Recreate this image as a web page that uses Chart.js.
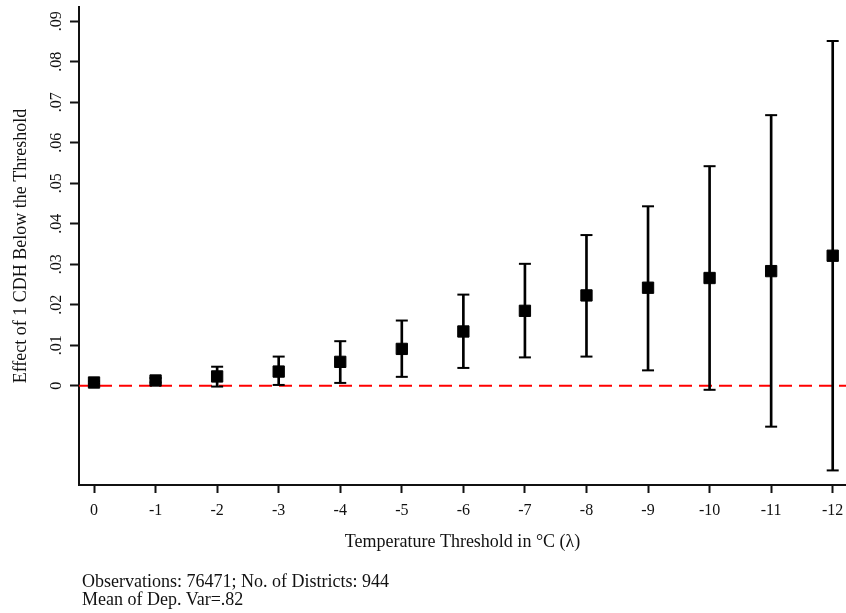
<!DOCTYPE html>
<html>
<head>
<meta charset="utf-8">
<script src="https://cdn.jsdelivr.net/npm/chart.js@4/dist/chart.umd.min.js"></script>
<style>
  html, body { margin: 0; padding: 0; background: #fff; }
  #wrap { position: relative; width: 846px; height: 613px; }
  #c { position: absolute; left: 0; top: 0; }
  #notes { position: absolute; left: 82px; top: 572px; font-family: 'Liberation Serif', 'Times New Roman', serif; font-size: 18px; line-height: 18px; color: #111; white-space: nowrap; }
</style>
</head>
<body>
<div id="wrap">
  <canvas id="c" width="846" height="613"></canvas>
  <div id="notes">Observations: 76471; No. of Districts: 944<br>Mean of Dep. Var=.82</div>
</div>
<script>
// Categories: temperature thresholds (x axis tick labels)
const thresholds = ['0', '-1', '-2', '-3', '-4', '-5', '-6', '-7', '-8', '-9', '-10', '-11', '-12'];
// Point estimates
const estimates = [0.0008, 0.0013, 0.0023, 0.0035, 0.0059, 0.0091, 0.0134, 0.0185, 0.0223, 0.0242, 0.0266, 0.0283, 0.0321];
// Confidence interval bounds
const ciLower = [0.0005, 0.0008, -0.0002, 0.0002, 0.0007, 0.0022, 0.0044, 0.0070, 0.0072, 0.0038, -0.0010, -0.0101, -0.0209];
const ciUpper = [0.0011, 0.0019, 0.0047, 0.0072, 0.0110, 0.0161, 0.0225, 0.0301, 0.0372, 0.0443, 0.0542, 0.0668, 0.0851];
// Y axis ticks
const yTickValues = [0, 0.01, 0.02, 0.03, 0.04, 0.05, 0.06, 0.07, 0.08, 0.09];
const yTickLabels = ['0', '.01', '.02', '.03', '.04', '.05', '.06', '.07', '.08', '.09'];
// Axis ranges
const xMin = -0.244, xMax = 12.216;
const yMin = -0.0245, yMax = 0.0935;

const FONT = "'Liberation Serif', 'Times New Roman', serif";

const idx = thresholds.map((_, i) => i);

new Chart(document.getElementById('c'), {
  data: {
    datasets: [
      {
        type: 'line',
        data: [{x: xMin, y: 0}, {x: xMax, y: 0}],
        borderColor: '#ff0000',
        borderWidth: 2,
        borderDash: [13, 7],
        pointRadius: 0,
        order: 10
      },
      {
        type: 'bar',
        data: idx.map(i => ({x: i, y: [ciLower[i], ciUpper[i]]})),
        backgroundColor: '#000',
        borderWidth: 0,
        barThickness: 2,
        grouped: false,
        order: 5
      },
      {
        type: 'scatter',
        data: idx.map(i => ({x: i, y: ciUpper[i]})).concat(idx.map(i => ({x: i, y: ciLower[i]}))),
        pointStyle: 'line',
        pointRadius: 6,
        pointBorderWidth: 2,
        borderColor: '#000',
        backgroundColor: '#000',
        order: 4
      },
      {
        type: 'scatter',
        data: idx.map(i => ({x: i, y: estimates[i]})),
        pointStyle: 'rect',
        pointRadius: 8,
        pointBorderWidth: 1,
        borderColor: '#000',
        backgroundColor: '#000',
        order: 1
      }
    ]
  },
  options: {
    responsive: false,
    animation: false,
    layout: { autoPadding: false, padding: { top: 7, right: 0, bottom: 0, left: 0 } },
    plugins: { legend: { display: false }, tooltip: { enabled: false } },
    scales: {
      x: {
        type: 'linear',
        min: xMin,
        max: xMax,
        offset: false,
        afterBuildTicks: s => { s.ticks = idx.map(i => ({value: i})); },
        afterFit: s => { s.height = 128; s.paddingLeft = 0; s.paddingRight = 0; },
        ticks: {
          autoSkip: false,
          minRotation: 0,
          maxRotation: 0,
          padding: 8,
          color: '#111',
          font: { family: FONT, size: 16 },
          callback: (v, i) => thresholds[i]
        },
        grid: { display: true, offset: false, drawOnChartArea: false, tickLength: 8, tickWidth: 2, color: '#111' },
        border: { display: true, color: '#111', width: 2 },
        title: {
          display: true,
          text: 'Temperature Threshold in °C (λ)',
          color: '#111',
          font: { family: FONT, size: 18 },
          padding: { top: 0, bottom: 60 }
        }
      },
      y: {
        type: 'linear',
        min: yMin,
        max: yMax,
        afterBuildTicks: s => { s.ticks = yTickValues.map(v => ({value: v})); },
        afterFit: s => { s.width = 79; s.paddingTop = 0; s.paddingBottom = 0; },
        ticks: {
          autoSkip: false,
          minRotation: 90,
          maxRotation: 90,
          crossAlign: 'center',
          padding: 3,
          color: '#111',
          font: { family: FONT, size: 16 },
          callback: (v, i) => yTickLabels[i]
        },
        grid: { display: true, drawOnChartArea: false, tickLength: 9, tickWidth: 2, color: '#111' },
        border: { display: true, color: '#111', width: 2 },
        title: {
          display: true,
          text: 'Effect of 1 CDH Below the Threshold',
          color: '#111',
          font: { family: FONT, size: 18 },
          padding: { top: 10, bottom: 0 }
        }
      }
    }
  }
});
</script>
</body>
</html>
